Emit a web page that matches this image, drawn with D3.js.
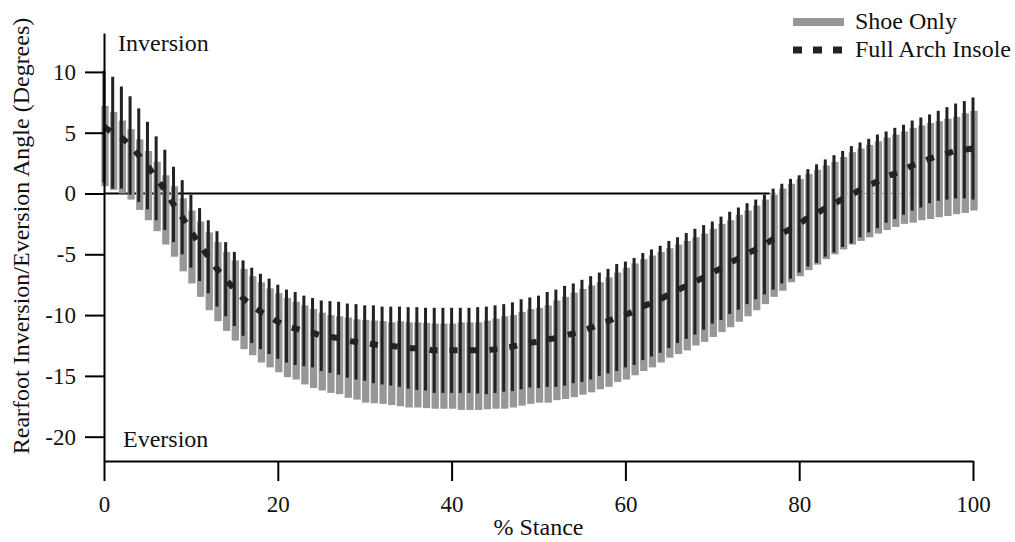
<!DOCTYPE html>
<html>
<head>
<meta charset="utf-8">
<script src="https://cdn.jsdelivr.net/npm/d3@7"></script>
<style>
  body { margin: 0; background: #fff; }
  svg text { font-family: "Liberation Serif", "Times New Roman", serif; fill: #111; }
</style>
</head>
<body>
<div id="chart"></div>
<script>
// % stance, one sample per percent
const stance = d3.range(0, 101);

// Shoe Only: mean and SD (degrees)
const shoeMean = [3.9, 3.5, 3.0, 2.4, 1.55, 0.65, -0.25, -1.35, -2.3, -3.4,
  -4.4, -5.4, -6.4, -7.25, -8.05, -8.8, -9.5, -10.05, -10.6, -11.05,
  -11.45, -11.85, -12.1, -12.45, -12.75, -13.0, -13.2, -13.3, -13.5, -13.65,
  -13.8, -13.85, -13.9, -14.0, -14.0, -14.1, -14.1, -14.15, -14.2, -14.2,
  -14.2, -14.2, -14.2, -14.2, -14.1, -14.0, -13.9, -13.8, -13.6, -13.4,
  -13.3, -13.2, -12.9, -12.7, -12.45, -12.2, -11.95, -11.7, -11.4, -11.0,
  -10.7, -10.35, -10.0, -9.7, -9.35, -9.0, -8.7, -8.4, -8.05, -7.75,
  -7.35, -6.95, -6.6, -6.15, -5.75, -5.3, -4.8, -4.3, -3.8, -3.25,
  -2.8, -2.35, -1.95, -1.55, -1.2, -0.8, -0.4, -0.1, 0.2, 0.5,
  0.8, 1.05, 1.3, 1.5, 1.7, 1.85, 2.0, 2.15, 2.3, 2.5, 2.7];
const shoeSD = [3.3, 3.2, 3.0, 2.9, 2.9, 2.85, 2.85, 2.85, 2.9, 3.0,
  3.0, 3.1, 3.2, 3.25, 3.25, 3.3, 3.3, 3.25, 3.3, 3.25,
  3.25, 3.25, 3.2, 3.25, 3.25, 3.2, 3.2, 3.2, 3.3, 3.3,
  3.4, 3.4, 3.4, 3.4, 3.5, 3.5, 3.5, 3.5, 3.5, 3.5,
  3.5, 3.6, 3.6, 3.6, 3.65, 3.7, 3.8, 3.8, 3.85, 3.9,
  3.9, 4.0, 4.1, 4.2, 4.3, 4.35, 4.4, 4.4, 4.5, 4.5,
  4.6, 4.6, 4.6, 4.6, 4.55, 4.5, 4.5, 4.5, 4.45, 4.45,
  4.45, 4.45, 4.4, 4.4, 4.35, 4.3, 4.3, 4.2, 4.2, 4.05,
  4.0, 3.95, 3.9, 3.85, 3.8, 3.8, 3.8, 3.8, 3.8, 3.8,
  3.8, 3.8, 3.8, 3.9, 3.9, 3.95, 3.95, 4.0, 4.0, 4.1, 4.1];

// Full Arch Insole: mean and SD (degrees)
const archMean = [5.5, 5.0, 4.6, 3.95, 3.15, 2.3, 1.25, 0.3, -0.9, -1.95,
  -3.1, -4.2, -5.2, -6.2, -7.05, -7.85, -8.6, -9.2, -9.7, -10.1,
  -10.55, -10.9, -11.1, -11.3, -11.45, -11.7, -11.8, -11.9, -12.1, -12.2,
  -12.3, -12.4, -12.5, -12.55, -12.6, -12.7, -12.75, -12.8, -12.9, -12.9,
  -12.9, -12.9, -12.9, -12.9, -12.9, -12.8, -12.7, -12.6, -12.4, -12.25,
  -12.2, -12.0, -11.9, -11.7, -11.5, -11.3, -11.05, -10.75, -10.5, -10.2,
  -9.95, -9.7, -9.3, -9.0, -8.7, -8.3, -7.95, -7.6, -7.25, -6.9,
  -6.5, -6.15, -5.7, -5.35, -4.95, -4.6, -4.2, -3.75, -3.3, -2.9,
  -2.5, -2.0, -1.65, -1.2, -0.85, -0.45, -0.1, 0.3, 0.65, 1.0,
  1.35, 1.65, 1.95, 2.3, 2.55, 2.85, 3.1, 3.3, 3.5, 3.6, 3.7];
const archSD = [4.6, 4.6, 4.2, 4.05, 3.85, 3.6, 3.45, 3.3, 3.1, 3.05,
  3.0, 3.0, 3.0, 3.1, 3.05, 3.05, 3.1, 3.1, 3.1, 3.1,
  3.05, 3.0, 3.0, 2.9, 2.85, 2.9, 2.95, 3.0, 3.05, 3.1,
  3.1, 3.2, 3.2, 3.25, 3.3, 3.35, 3.4, 3.4, 3.5, 3.5,
  3.5, 3.5, 3.5, 3.55, 3.6, 3.6, 3.6, 3.65, 3.7, 3.7,
  3.8, 3.9, 4.0, 4.1, 4.1, 4.2, 4.25, 4.25, 4.3, 4.4,
  4.35, 4.4, 4.4, 4.4, 4.4, 4.4, 4.35, 4.35, 4.35, 4.3,
  4.2, 4.25, 4.2, 4.2, 4.15, 4.1, 4.1, 4.15, 4.1, 4.1,
  4.0, 4.0, 4.05, 4.0, 4.0, 3.95, 4.0, 3.9, 3.85, 3.85,
  3.75, 3.75, 3.7, 3.7, 3.7, 3.65, 3.7, 3.8, 3.9, 4.0, 4.2];

const xTicks = [0, 20, 40, 60, 80, 100];
const yTicks = [10, 5, 0, -5, -10, -15, -20];
const zeroLineEnd = 76.6; // the solid zero line stops here, dotted after
const seriesNames = ["Shoe Only", "Full Arch Insole"];

const width = 1015, height = 542;
const svg = d3.select("#chart").append("svg")
    .attr("width", width)
    .attr("height", height);

const xScale = d3.scaleLinear().domain([0, 100]).range([104, 973]);
const yScale = d3.scaleLinear().domain([-22, 13.2]).range([461, 33]);

const grey = "#979797";
const dark = "#222";
const step = xScale(1) - xScale(0);
const greyW = step - 1.4;
const darkW = 3;

// zero reference line (behind the bars)
svg.append("line")
    .attr("x1", xScale(0)).attr("x2", xScale(zeroLineEnd))
    .attr("y1", yScale(0)).attr("y2", yScale(0))
    .attr("stroke", "#000").attr("stroke-width", 2);
svg.append("line")
    .attr("x1", xScale(zeroLineEnd)).attr("x2", xScale(100))
    .attr("y1", yScale(0)).attr("y2", yScale(0))
    .attr("stroke", "#666").attr("stroke-width", 1)
    .attr("stroke-dasharray", "1.5,3");

// Shoe Only SD bars (grey)
svg.append("g").selectAll("rect")
    .data(stance)
    .enter().append("rect")
    .attr("x", i => xScale(stance[i]) - greyW / 2 + 1)
    .attr("y", i => yScale(shoeMean[i] + shoeSD[i]))
    .attr("width", greyW)
    .attr("height", i => yScale(shoeMean[i] - shoeSD[i]) - yScale(shoeMean[i] + shoeSD[i]))
    .attr("fill", grey);

// Full Arch Insole SD bars (black)
svg.append("g").selectAll("rect")
    .data(stance)
    .enter().append("rect")
    .attr("x", i => xScale(stance[i]) - darkW / 2)
    .attr("y", i => yScale(archMean[i] + archSD[i]))
    .attr("width", darkW)
    .attr("height", i => yScale(archMean[i] - archSD[i]) - yScale(archMean[i] + archSD[i]))
    .attr("fill", dark);

// Full Arch Insole mean, dashed
const meanLine = d3.line()
    .x(i => xScale(stance[i]))
    .y(i => yScale(archMean[i]))
    .curve(d3.curveMonotoneX);

svg.append("path")
    .datum(stance)
    .attr("d", meanLine)
    .attr("fill", "none")
    .attr("stroke", dark)
    .attr("stroke-width", 6)
    .attr("stroke-dasharray", "8,12");

// axes
const fmt = d => String(d);

const yAxis = svg.append("g")
    .attr("transform", `translate(${xScale(0)},0)`)
    .call(d3.axisLeft(yScale).tickValues(yTicks).tickFormat(fmt).tickSize(19).tickPadding(9).tickSizeOuter(0));
yAxis.select(".domain").attr("stroke-width", 2);
yAxis.selectAll(".tick line").attr("stroke-width", 2);
yAxis.selectAll("text").style("font-size", "23px").attr("font-family", null);

const xAxis = svg.append("g")
    .attr("transform", `translate(0,${yScale(-22)})`)
    .call(d3.axisBottom(xScale).tickValues(xTicks).tickFormat(fmt).tickSize(20).tickPadding(15).tickSizeOuter(0));
xAxis.select(".domain").attr("stroke-width", 2);
xAxis.selectAll(".tick line").attr("stroke-width", 2);
xAxis.selectAll("text").style("font-size", "23px").attr("font-family", null);

// labels
svg.append("text")
    .attr("x", (xScale(0) + xScale(100)) / 2)
    .attr("y", 535)
    .attr("text-anchor", "middle")
    .style("font-size", "24px")
    .text("% Stance");

svg.append("text")
    .attr("transform", "translate(29,236) rotate(-90)")
    .attr("text-anchor", "middle")
    .style("font-size", "24px")
    .text("Rearfoot Inversion/Eversion Angle (Degrees)");

svg.append("text")
    .attr("x", 118).attr("y", 51)
    .style("font-size", "24px")
    .text("Inversion");

svg.append("text")
    .attr("x", 123).attr("y", 447)
    .style("font-size", "24px")
    .text("Eversion");

// legend
const legend = svg.append("g").attr("transform", "translate(793,0)");

legend.append("line")
    .attr("x1", 0).attr("x2", 51).attr("y1", 22).attr("y2", 22)
    .attr("stroke", grey).attr("stroke-width", 8);
legend.append("line")
    .attr("x1", 0).attr("x2", 51).attr("y1", 50).attr("y2", 50)
    .attr("stroke", dark).attr("stroke-width", 7)
    .attr("stroke-dasharray", "9,11");

legend.selectAll(".lbl")
    .data(seriesNames)
    .enter().append("text")
    .attr("class", "lbl")
    .attr("x", 62)
    .attr("y", (d, i) => 29 + i * 28)
    .style("font-size", "24px")
    .text(d => d);
</script>
</body>
</html>
